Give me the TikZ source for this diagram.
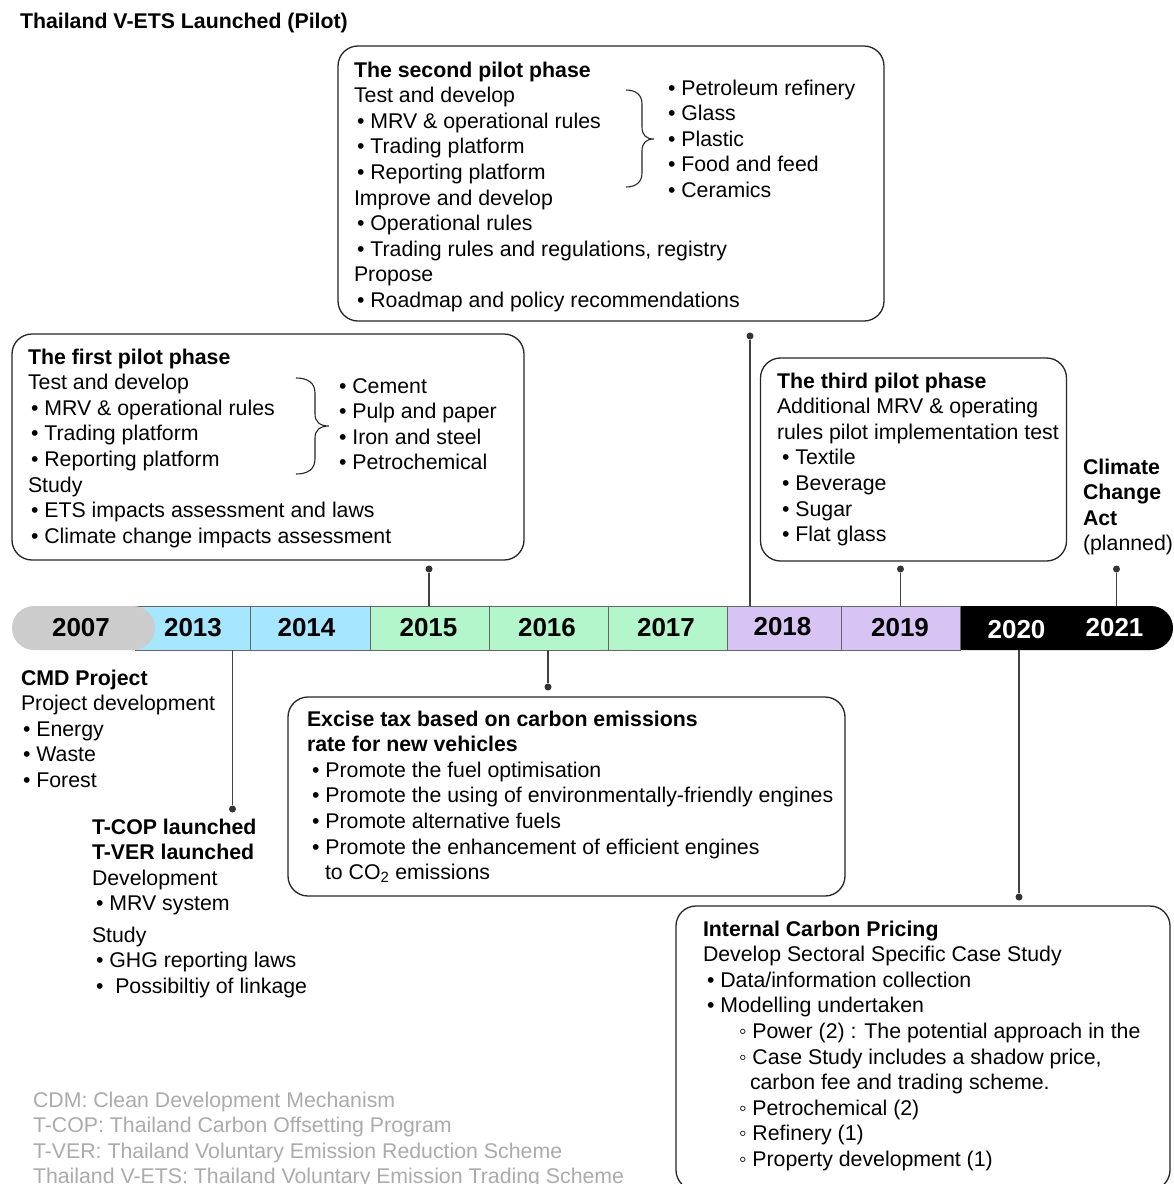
\documentclass[tikz,border=0pt]{standalone}
\usepackage{fontspec}
\setmainfont{Liberation Sans}
\newcommand\fs{\fontsize{21.3}{25.6}\selectfont}
\newcommand\fh{\rule{0pt}{16pt}}
\definecolor{cgrey}{HTML}{CCCCCC}
\definecolor{cblue}{HTML}{A6E6FF}
\definecolor{cgreen}{HTML}{B3F6CC}
\definecolor{cpurple}{HTML}{D8C4F4}
\definecolor{clegend}{HTML}{ABABAB}
\begin{document}
\begin{tikzpicture}[x=1pt,y=-1pt,
  box/.style={draw=black!85, line width=1.3pt, rounded corners=20pt, inner sep=0pt},
  txt/.style={anchor=north west, inner sep=0pt, outer sep=0pt, align=left, font=\fs},
  cell/.style={draw=black!60, line width=0.6pt, inner sep=0pt, minimum height=44pt},
  yr/.style={font=\fontsize{26}{26}\selectfont\bfseries, inner sep=0pt},
  dotn/.style={circle, fill=black!80, inner sep=0pt, minimum size=7pt},
  conn/.style={draw=black!75, line width=1.1pt},
  brc/.style={draw=black!85, line width=1.1pt}]
\clip (0,0) rectangle (1174,1184);
\fill[white] (0,0) rectangle (1174,1184);

% title (baseline 28)
\node[txt] (title) at (20,12) {\fh\bfseries Thailand V-ETS Launched (Pilot)};

% ---------------- timeline bar
\fill[black, rounded corners=22pt] (930,606) rectangle (1173,650);
\node[cell, fill=cblue, minimum width=115pt] (c2013) at (192.5,628) {};
\node[cell, fill=cblue, minimum width=120pt] (c2014) at (310,628) {};
\node[cell, fill=cgreen, minimum width=119pt] (c2015) at (429.5,628) {};
\node[cell, fill=cgreen, minimum width=119pt] (c2016) at (548.5,628) {};
\node[cell, fill=cgreen, minimum width=119pt] (c2017) at (667.5,628) {};
\node[cell, fill=cpurple, minimum width=114pt] (c2018) at (784,628) {};
\node[cell, fill=cpurple, minimum width=119pt] (c2019) at (900.5,628) {};
\node[fill=cgrey, rounded corners=22pt, inner sep=0pt, minimum width=143pt, minimum height=44pt] (c2007) at (83.5,628) {};
\node[yr] (t2007) at (81,628) {2007};
\node[yr] (t2013) at (193,628) {2013};
\node[yr] (t2014) at (306.5,628) {2014};
\node[yr] (t2015) at (428.5,628) {2015};
\node[yr] (t2016) at (547,628) {2016};
\node[yr] (t2017) at (666,628) {2017};
\node[yr] (t2018) at (782.5,626.5) {2018};
\node[yr] (t2019) at (900,628) {2019};
\node[yr, text=white] (t2020) at (1016.5,629.5) {2020};
\node[yr, text=white] (t2021) at (1114.5,627.5) {2021};
\coordinate (barTop2020) at (1019,606);
\coordinate (barBot2020) at (1019,650);

% ---------------- second pilot phase
\node[box, minimum width=546pt, minimum height=275pt] (p2box) at (611,183.5) {};
\node[txt] (p2txt) at (354,61) {\fh\bfseries The second pilot phase\\
Test and develop\\
\hspace*{3pt}• MRV \& operational rules\\
\hspace*{3pt}• Trading platform\\
\hspace*{3pt}• Reporting platform\\
Improve and develop\\
\hspace*{3pt}• Operational rules\\
\hspace*{3pt}• Trading rules and regulations, registry\\
Propose\\
\hspace*{3pt}• Roadmap and policy recommendations};
\node[txt] (p2list) at (668,79) {\fh• Petroleum refinery\\ • Glass\\ • Plastic\\ • Food and feed\\ • Ceramics};
\draw[brc] (626,90) .. controls (636,90) and (642,95) .. (642,104) -- (642,127) .. controls (642,135) and (646,139) .. (654,139) .. controls (646,139) and (642,143) .. (642,151) -- (642,173) .. controls (642,182) and (636,187) .. (626,187);
\node[dotn] (d2) at (750,336) {};
\draw[conn] (d2) -- (d2 |- c2018.north);

% ---------------- first pilot phase
\node[box, minimum width=512pt, minimum height=226pt] (p1box) at (268,447) {};
\node[txt] (p1txt) at (28,348) {\fh\bfseries The first pilot phase\\
Test and develop\\
\hspace*{3pt}• MRV \& operational rules\\
\hspace*{3pt}• Trading platform\\
\hspace*{3pt}• Reporting platform\\
Study\\
\hspace*{3pt}• ETS impacts assessment and laws\\
\hspace*{3pt}• Climate change impacts assessment};
\node[txt] (p1list) at (339,377) {\fh• Cement\\ • Pulp and paper\\ • Iron and steel\\ • Petrochemical};
\draw[brc] (296,378) .. controls (308,378) and (315,383) .. (315,393) -- (315,414) .. controls (315,422) and (320,426) .. (329,426) .. controls (320,426) and (315,430) .. (315,438) -- (315,459) .. controls (315,469) and (308,474) .. (296,474);
\node[dotn] (d1) at (429,569) {};
\draw[conn] (d1) -- (d1 |- c2015.north);

% ---------------- third pilot phase
\node[box, minimum width=306pt, minimum height=203pt] (p3box) at (913.5,459.5) {};
\node[txt] (p3txt) at (777,372) {\fh\bfseries The third pilot phase\\
Additional MRV \& operating\\
rules pilot implementation test\\
\hspace*{5pt}• Textile\\
\hspace*{5pt}• Beverage\\
\hspace*{5pt}• Sugar\\
\hspace*{5pt}• Flat glass};
\node[dotn] (d3) at (900.5,569) {};
\draw[conn] (d3) -- (d3 |- c2019.north);

% ---------------- climate change act
\node[txt] (ccatxt) at (1083,458) {\fh\bfseries Climate\\ \bfseries Change\\ \bfseries Act\\ (planned)};
\node[dotn] (d4) at (1116.5,569) {};
\draw[conn] (d4) -- (d4 |- barTop2020);

% ---------------- CMD project
\node[txt] (cmdtxt) at (21,669) {\fh\bfseries CMD Project\\
Project development\\
\hspace*{2pt}• Energy\\
\hspace*{2pt}• Waste\\
\hspace*{2pt}• Forest};

% ---------------- T-COP
\node[dotn] (d5) at (232.5,809) {};
\draw[conn] (d5) -- (d5 |- c2013.south);
\node[txt] (tcoptxt) at (92,818) {\fh\bfseries T-COP launched\\
\bfseries T-VER launched\\
Development\\
\hspace*{4pt}• MRV system\\[5.6pt]
Study\\
\hspace*{4pt}• GHG reporting laws\\
\hspace*{4pt}•\ \ Possibiltiy of linkage};

% ---------------- excise tax
\node[box, minimum width=557pt, minimum height=199pt] (exbox) at (566.5,796.5) {};
\node[txt] (extxt) at (307,710) {\fh\bfseries Excise tax based on carbon emissions\\
\bfseries rate for new vehicles\\
\hspace*{5pt}• Promote the fuel optimisation\\
\hspace*{5pt}• Promote the using of environmentally-friendly engines\\
\hspace*{5pt}• Promote alternative fuels\\
\hspace*{5pt}• Promote the enhancement of efficient engines\\
\hspace*{18pt}to CO\textsubscript{2} emissions};
\node[dotn] (d6) at (548,687) {};
\draw[conn] (d6) -- (d6 |- c2016.south);

% ---------------- internal carbon pricing
\node[box, minimum width=494pt, minimum height=284pt] (icbox) at (923,1048) {};
\node[txt] (ictxt) at (703,920) {\fh\bfseries Internal Carbon Pricing\\
Develop Sectoral Specific Case Study\\
\hspace*{4pt}• Data/information collection\\
\hspace*{4pt}• Modelling undertaken\\
\hspace*{36pt}◦ Power (2) : The potential approach in the\\
\hspace*{36pt}◦ Case Study includes a shadow price,\\
\hspace*{47pt}carbon fee and trading scheme.\\
\hspace*{36pt}◦ Petrochemical (2)\\
\hspace*{36pt}◦ Refinery (1)\\
\hspace*{36pt}◦ Property development (1)};
\node[dotn] (d7) at (1019,897) {};
\draw[conn] (d7) -- (barBot2020);

% ---------------- legend
\node[txt, text=clegend] (legend) at (33,1091) {\fh CDM: Clean Development Mechanism\\
T-COP: Thailand Carbon Offsetting Program\\
T-VER: Thailand Voluntary Emission Reduction Scheme\\
Thailand V-ETS: Thailand Voluntary Emission Trading Scheme};
\end{tikzpicture}
\end{document}
